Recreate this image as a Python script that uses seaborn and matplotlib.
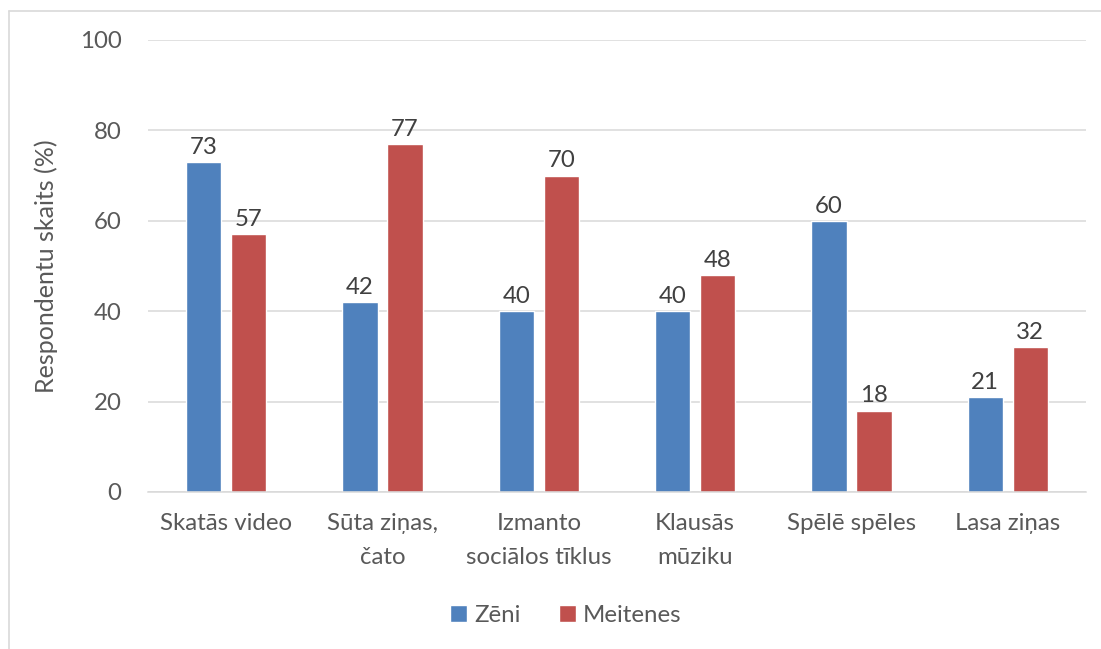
import pandas as pd
import matplotlib
matplotlib.use("Agg")
import matplotlib.pyplot as plt
from matplotlib.lines import Line2D
import seaborn as sns

# Chart data
categories = ["Skatās video", "Sūta ziņas,\nčato", "Izmanto\nsociālos tīklus",
              "Klausās\nmūziku", "Spēlē spēles", "Lasa ziņas"]
zeni = [73, 42, 40, 40, 60, 21]
meitenes = [57, 77, 70, 48, 18, 32]
series_names = ["Zēni", "Meitenes"]
y_ticks = [0, 20, 40, 60, 80, 100]

df = pd.DataFrame({
    "kategorija": categories * 2,
    "dzimums": [series_names[0]] * len(categories) + [series_names[1]] * len(categories),
    "vertiba": zeni + meitenes,
})

sns.set_theme(style="white")
plt.rcParams['font.family'] = ['Lato', 'DejaVu Sans']
text_col = "#595959"
fs = 17.3

fig = plt.figure(figsize=(11.01, 6.49), dpi=100)
ax = fig.add_axes([148 / 1101, 1 - 492 / 649, (1086 - 148) / 1101, (492 - 40) / 649])

sns.barplot(data=df, x="kategorija", y="vertiba", hue="dzimums",
            palette=["#4F81BD", "#C0504D"], width=0.576, gap=0.222,
            saturation=1, ax=ax, legend=True)

ax.set_ylim(0, 100)
ax.set_xlim(-0.5, len(categories) - 0.5)
ax.set_yticks(y_ticks)
ax.yaxis.grid(True, color="#d9d9d9", linewidth=1.1)
ax.set_axisbelow(True)
for side in ["top", "right", "left"]:
    ax.spines[side].set_visible(False)
ax.spines["bottom"].set_color("#d9d9d9")
ax.spines["bottom"].set_linewidth(1.1)
ax.tick_params(axis="both", length=0, labelsize=fs, colors=text_col)
ax.tick_params(axis="y", pad=19)
ax.tick_params(axis="x", pad=15)
for lbl in ax.get_xticklabels():
    lbl.set_linespacing(1.75)
ax.set_xlabel("")
ax.set_ylabel("Respondentu skaits (%)", fontsize=18, color=text_col, labelpad=16)

for cont in ax.containers:
    ax.bar_label(cont, fmt="%d", padding=3, fontsize=fs, color="#404040")

leg = ax.legend(loc="center", bbox_to_anchor=(566 / 1101, 1 - 615 / 649),
                bbox_transform=fig.transFigure, ncol=2, frameon=False,
                fontsize=fs, handlelength=0.7, handleheight=0.7,
                handletextpad=0.3, columnspacing=1.6)
for t in leg.get_texts():
    t.set_color(text_col)

# chart area border (partly cropped)
bcol = "#d9d9d9"
fig.add_artist(Line2D([8.5 / 1101, 8.5 / 1101], [0, 1 - 10.5 / 649],
                      transform=fig.transFigure, color=bcol, linewidth=1.2))
fig.add_artist(Line2D([8.5 / 1101, 1], [1 - 10.5 / 649, 1 - 10.5 / 649],
                      transform=fig.transFigure, color=bcol, linewidth=1.2))

fig.savefig("out.png", dpi=100)
